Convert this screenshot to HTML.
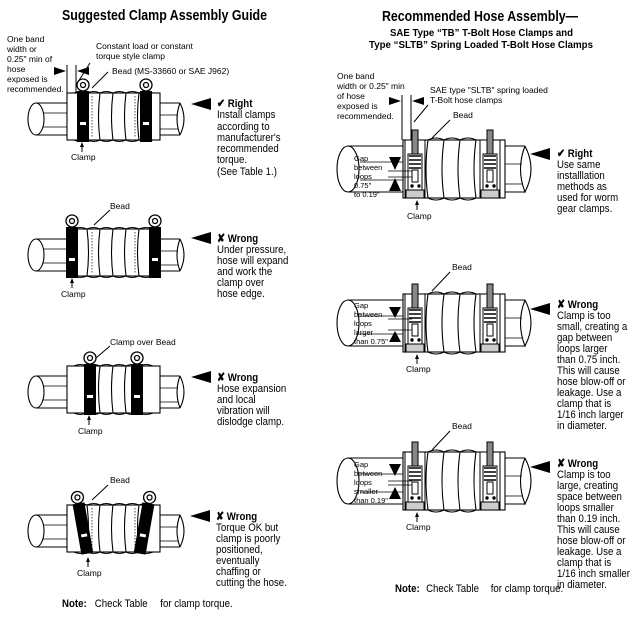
<!DOCTYPE html>
<html><head><meta charset="utf-8"><style>
html,body{margin:0;padding:0;background:#fff;}
svg{display:block;font-family:"Liberation Sans",sans-serif;}
.t{font-size:11.5px;fill:#000;}
.b{font-weight:bold;}
.s{font-size:8.5px;fill:#000;}
.xs{font-size:7.5px;fill:#000;}
</style></head><body>
<svg width="636" height="618" viewBox="0 0 636 618" xmlns="http://www.w3.org/2000/svg">
<defs>
<g id="lpipe" stroke="#000" stroke-width="1.1" fill="#fff">
  <path d="M36 10 H180 M36 42 H180"/>
  <line x1="40" y1="20" x2="68" y2="20" stroke-width="0.8"/>
  <line x1="40" y1="34" x2="68" y2="34" stroke-width="0.8"/>
  <line x1="160" y1="22" x2="178" y2="22" stroke-width="0.8"/>
  <line x1="160" y1="36" x2="178" y2="36" stroke-width="0.8"/>
  <ellipse cx="36" cy="26" rx="8" ry="16"/>
  <path d="M180 10 Q188 26 180 42" fill="none"/>
  <path d="M180 10 Q174 26 180 42" fill="none"/>
  <rect x="67" y="0" width="93" height="47"/>
  <path d="M74 0 Q80 -3 87 0 Q94 -3 100 0 Q106 -3 113 0 Q119 -3 126 0 Q132 -3 139 0 Q146 -3 153 0 M74 47 Q80 50 87 47 Q94 50 100 47 Q106 50 113 47 Q119 50 126 47 Q132 50 139 47 Q146 50 153 47" fill="none"/>
  <path d="M100 0 Q97 23 100 47 M113 0 Q110 23 113 47 M126 0 Q123 23 126 47 M87 0 Q90 23 87 47 M139 0 Q136 23 139 47" fill="none"/>
  <path d="M92 3 V44 M135 3 V44" stroke-dasharray="1.5 1.5" stroke-width="0.7" fill="none"/>
</g>
<g id="lclamp">
  <rect x="0" y="-2" width="12" height="51" fill="#000"/>
  <rect x="3" y="29" width="6" height="3" fill="#fff"/>
  <circle cx="6" cy="-8" r="6" fill="#fff" stroke="#000" stroke-width="1.3"/>
  <circle cx="6" cy="-8" r="2.5" fill="none" stroke="#000" stroke-width="1.3"/>
</g>
<g id="rpipe" stroke="#000" stroke-width="1.1" fill="#fff">
  <path d="M348 6 H525 M348 52 H525"/>
  <ellipse cx="348" cy="29" rx="11" ry="23"/>
  <path d="M525 6 Q537 29 525 52 Q516 29 525 6" fill="none"/>
  <line x1="360" y1="22" x2="403" y2="22" stroke-width="0.8"/>
  <line x1="360" y1="40" x2="403" y2="40" stroke-width="0.8"/>
  <line x1="505" y1="24" x2="522" y2="24" stroke-width="0.8"/>
  <line x1="505" y1="44" x2="522" y2="44" stroke-width="0.8"/>
  <rect x="403" y="0" width="102" height="58"/>
  <path d="M428 0 Q436 -4 444 0 Q452 -4 460 0 Q468 -4 476 0 M428 58 Q436 62 444 58 Q452 62 460 58 Q468 62 476 58" fill="none"/>
  <path d="M428 0 Q424 29 428 58 M444 0 Q440 29 444 58 M460 0 Q456 29 460 58 M476 0 Q472 29 476 58" fill="none"/>
</g>
<g id="tb" stroke="#000" stroke-width="1" fill="#fff">
  <rect x="0" y="0" width="20" height="58"/>
  <rect x="1" y="50" width="18" height="8" fill="#ccc"/>
  <rect x="3" y="14" width="14" height="36"/>
  <rect x="7" y="-10" width="6" height="24" fill="#888"/>
  <path d="M4 16 H16 M4 20 H16 M4 24 H16 M4 28 H16" stroke-width="1.4"/>
  <rect x="7" y="30" width="6" height="12"/>
  <circle cx="7" cy="46" r="1.2" fill="#000"/>
  <circle cx="14" cy="46" r="1.2" fill="#000"/>
</g>
<path id="tri" d="M0 6 L20 0 L20 12 Z" fill="#000"/>
</defs>

<!-- LEFT TITLE -->
<text x="62" y="20" class="b" font-size="14.5" textLength="205" lengthAdjust="spacingAndGlyphs">Suggested Clamp Assembly Guide</text>

<!-- Left panel 1 -->
<text class="s"><tspan x="7" y="42">One band</tspan><tspan x="7" y="52">width or</tspan><tspan x="7" y="62">0.25" min of</tspan><tspan x="7" y="72">hose</tspan><tspan x="7" y="82">exposed is</tspan><tspan x="7" y="92">recommended.</tspan></text>
<text class="s"><tspan x="96" y="49">Constant load or constant</tspan><tspan x="96" y="59">torque style clamp</tspan><tspan x="112" y="74">Bead (MS-33660 or SAE J962)</tspan></text>
<g stroke="#000" stroke-width="1"><line x1="67" y1="65" x2="67" y2="93"/><line x1="76" y1="65" x2="76" y2="93"/><line x1="90" y1="63" x2="78" y2="82"/><line x1="108" y1="72" x2="92" y2="88"/></g>
<path d="M54 67 L66 71 L54 75Z M89 67 L77 71 L89 75Z"/>
<use href="#lpipe" transform="translate(0,93)"/>
<use href="#lclamp" transform="translate(77,93)"/>
<use href="#lclamp" transform="translate(140,93)"/>
<line x1="82" y1="145" x2="82" y2="152" stroke="#000"/><path d="M80 147 L82 142 L84 147Z"/>
<text x="71" y="160" class="s">Clamp</text>
<use href="#tri" transform="translate(191,98)"/>
<g transform="translate(217,0) scale(0.84,1)"><text class="t"><tspan x="0" y="107" class="b">✔ Right</tspan><tspan x="0" y="118">Install clamps</tspan><tspan x="0" y="130">according to</tspan><tspan x="0" y="141">manufacturer's</tspan><tspan x="0" y="152">recommended</tspan><tspan x="0" y="163">torque.</tspan><tspan x="0" y="175">(See Table 1.)</tspan></text></g>

<!-- Left panel 2 -->
<text x="110" y="209" class="s">Bead</text>
<line x1="110" y1="210" x2="94" y2="225" stroke="#000"/>
<use href="#lpipe" transform="translate(0,229)"/>
<use href="#lclamp" transform="translate(66,229)"/>
<use href="#lclamp" transform="translate(149,229)"/>
<line x1="72" y1="281" x2="72" y2="288" stroke="#000"/><path d="M70 283 L72 278 L74 283Z"/>
<text x="61" y="297" class="s">Clamp</text>
<use href="#tri" transform="translate(191,232)"/>
<g transform="translate(217,0) scale(0.84,1)"><text class="t"><tspan x="0" y="242" class="b">✘ Wrong</tspan><tspan x="0" y="253">Under pressure,</tspan><tspan x="0" y="264">hose will expand</tspan><tspan x="0" y="275">and work the</tspan><tspan x="0" y="286">clamp over</tspan><tspan x="0" y="297">hose edge.</tspan></text></g>

<!-- Left panel 3 -->
<text x="110" y="345" class="s">Clamp over Bead</text>
<line x1="110" y1="346" x2="96" y2="358" stroke="#000"/>
<use href="#lpipe" transform="translate(0,366)"/>
<use href="#lclamp" transform="translate(84,366)"/>
<use href="#lclamp" transform="translate(131,366)"/>
<line x1="89" y1="418" x2="89" y2="425" stroke="#000"/><path d="M87 420 L89 415 L91 420Z"/>
<text x="78" y="434" class="s">Clamp</text>
<use href="#tri" transform="translate(191,371)"/>
<g transform="translate(217,0) scale(0.84,1)"><text class="t"><tspan x="0" y="381" class="b">✘ Wrong</tspan><tspan x="0" y="392">Hose expansion</tspan><tspan x="0" y="403">and local</tspan><tspan x="0" y="414">vibration will</tspan><tspan x="0" y="425">dislodge clamp.</tspan></text></g>

<!-- Left panel 4 -->
<text x="110" y="483" class="s">Bead</text>
<line x1="108" y1="485" x2="92" y2="500" stroke="#000"/>
<use href="#lpipe" transform="translate(0,505)"/>
<g transform="translate(77,505) rotate(-10 6 24)"><use href="#lclamp"/></g>
<g transform="translate(138,505) rotate(10 6 24)"><use href="#lclamp"/></g>
<line x1="88" y1="560" x2="88" y2="567" stroke="#000"/><path d="M86 562 L88 557 L90 562Z"/>
<text x="77" y="576" class="s">Clamp</text>
<use href="#tri" transform="translate(190,510)"/>
<g transform="translate(216,0) scale(0.84,1)"><text class="t"><tspan x="0" y="520" class="b">✘ Wrong</tspan><tspan x="0" y="531">Torque OK but</tspan><tspan x="0" y="542">clamp is poorly</tspan><tspan x="0" y="553">positioned,</tspan><tspan x="0" y="564">eventually</tspan><tspan x="0" y="575">chaffing or</tspan><tspan x="0" y="586">cutting the hose.</tspan></text></g>
<g transform="translate(62,0) scale(0.84,1)"><text class="t"><tspan x="0" y="607" class="b">Note:</tspan><tspan x="39" y="607">Check Table</tspan><tspan x="117" y="607">for clamp torque.</tspan></text></g>

<!-- RIGHT TITLE -->
<text x="382" y="21" class="b" font-size="14.5" textLength="196" lengthAdjust="spacingAndGlyphs">Recommended Hose Assembly—</text>
<text x="390" y="36" class="b" font-size="10.3" textLength="183" lengthAdjust="spacingAndGlyphs">SAE Type “TB” T-Bolt Hose Clamps and</text>
<text x="369" y="48" class="b" font-size="10.3" textLength="224" lengthAdjust="spacingAndGlyphs">Type “SLTB” Spring Loaded T-Bolt Hose Clamps</text>

<!-- Right panel 1 -->
<text class="s"><tspan x="337" y="79">One band</tspan><tspan x="337" y="89">width or 0.25" min</tspan><tspan x="337" y="99">of hose</tspan><tspan x="337" y="109">exposed is</tspan><tspan x="337" y="119">recommended.</tspan><tspan x="430" y="93">SAE type "SLTB" spring loaded</tspan><tspan x="430" y="103">T-Bolt hose clamps</tspan><tspan x="453" y="118">Bead</tspan></text>
<g stroke="#000" stroke-width="1"><line x1="402" y1="95" x2="402" y2="140"/><line x1="411" y1="95" x2="411" y2="140"/><line x1="428" y1="105" x2="414" y2="122"/><line x1="450" y1="120" x2="432" y2="138"/></g>
<path d="M389 97 L401 101 L389 105Z M424 97 L412 101 L424 105Z"/>
<use href="#rpipe" transform="translate(0,140)"/>
<use href="#tb" transform="translate(405,140)"/>
<use href="#tb" transform="translate(480,140)"/>
<text class="xs"><tspan x="354" y="161">Gap</tspan><tspan x="354" y="170">between</tspan><tspan x="354" y="179">loops</tspan><tspan x="354" y="188">0.75"</tspan><tspan x="354" y="197">to 0.19"</tspan></text>
<path d="M389 157 L395 170 L401 157Z M389 191 L395 178 L401 191Z"/>
<line x1="388" y1="171" x2="412" y2="171" stroke="#000" stroke-width="0.8"/><line x1="388" y1="177" x2="412" y2="177" stroke="#000" stroke-width="0.8"/>
<line x1="417" y1="203" x2="417" y2="210" stroke="#000"/><path d="M415 205 L417 200 L419 205Z"/>
<text x="407" y="219" class="s">Clamp</text>
<use href="#tri" transform="translate(530,148)"/>
<g transform="translate(557,0) scale(0.84,1)"><text class="t"><tspan x="0" y="157" class="b">✔ Right</tspan><tspan x="0" y="168">Use same</tspan><tspan x="0" y="179">installlation</tspan><tspan x="0" y="190">methods as</tspan><tspan x="0" y="201">used for worm</tspan><tspan x="0" y="212">gear clamps.</tspan></text></g>

<!-- Right panel 2 -->
<text x="452" y="270" class="s">Bead</text>
<line x1="450" y1="272" x2="432" y2="291" stroke="#000"/>
<use href="#rpipe" transform="translate(0,294)"/>
<use href="#tb" transform="translate(405,294)"/>
<use href="#tb" transform="translate(480,294)"/>
<text class="xs"><tspan x="354" y="308">Gap</tspan><tspan x="354" y="317">between</tspan><tspan x="354" y="326">loops</tspan><tspan x="354" y="335">larger</tspan><tspan x="354" y="344">than 0.75"</tspan></text>
<path d="M389 307 L395 318 L401 307Z M389 342 L395 331 L401 342Z"/>
<line x1="388" y1="319" x2="412" y2="319" stroke="#000" stroke-width="0.8"/><line x1="388" y1="330" x2="412" y2="330" stroke="#000" stroke-width="0.8"/>
<line x1="417" y1="357" x2="417" y2="364" stroke="#000"/><path d="M415 359 L417 354 L419 359Z"/>
<text x="406" y="372" class="s">Clamp</text>
<use href="#tri" transform="translate(530,303)"/>
<g transform="translate(557,0) scale(0.84,1)"><text class="t"><tspan x="0" y="308" class="b">✘ Wrong</tspan><tspan x="0" y="319">Clamp is too</tspan><tspan x="0" y="330">small, creating a</tspan><tspan x="0" y="341">gap between</tspan><tspan x="0" y="352">loops larger</tspan><tspan x="0" y="363">than 0.75 inch.</tspan><tspan x="0" y="374">This will cause</tspan><tspan x="0" y="385">hose blow-off or</tspan><tspan x="0" y="396">leakage. Use a</tspan><tspan x="0" y="407">clamp that is</tspan><tspan x="0" y="418">1/16 inch larger</tspan><tspan x="0" y="429">in diameter.</tspan></text></g>

<!-- Right panel 3 -->
<text x="452" y="429" class="s">Bead</text>
<line x1="450" y1="431" x2="432" y2="450" stroke="#000"/>
<use href="#rpipe" transform="translate(0,452)"/>
<use href="#tb" transform="translate(405,452)"/>
<use href="#tb" transform="translate(480,452)"/>
<text class="xs"><tspan x="354" y="467">Gap</tspan><tspan x="354" y="476">between</tspan><tspan x="354" y="485">loops</tspan><tspan x="354" y="494">smaller</tspan><tspan x="354" y="503">than 0.19"</tspan></text>
<path d="M389 464 L395 476 L401 464Z M389 499 L395 487 L401 499Z"/>
<line x1="388" y1="481" x2="412" y2="481" stroke="#000" stroke-width="0.8"/><line x1="388" y1="485" x2="412" y2="485" stroke="#000" stroke-width="0.8"/>
<line x1="417" y1="515" x2="417" y2="522" stroke="#000"/><path d="M415 517 L417 512 L419 517Z"/>
<text x="406" y="530" class="s">Clamp</text>
<use href="#tri" transform="translate(530,461)"/>
<g transform="translate(557,0) scale(0.84,1)"><text class="t"><tspan x="0" y="467" class="b">✘ Wrong</tspan><tspan x="0" y="478">Clamp is too</tspan><tspan x="0" y="489">large, creating</tspan><tspan x="0" y="500">space between</tspan><tspan x="0" y="511">loops smaller</tspan><tspan x="0" y="522">than 0.19 inch.</tspan><tspan x="0" y="533">This will cause</tspan><tspan x="0" y="544">hose blow-off or</tspan><tspan x="0" y="555">leakage. Use a</tspan><tspan x="0" y="566">clamp that is</tspan><tspan x="0" y="577">1/16 inch smaller</tspan><tspan x="0" y="588">in diameter.</tspan></text></g>
<g transform="translate(395,0) scale(0.84,1)"><text class="t"><tspan x="0" y="592" class="b">Note:</tspan><tspan x="37" y="592">Check Table</tspan><tspan x="114" y="592">for clamp torque.</tspan></text></g>
</svg>
</body></html>
